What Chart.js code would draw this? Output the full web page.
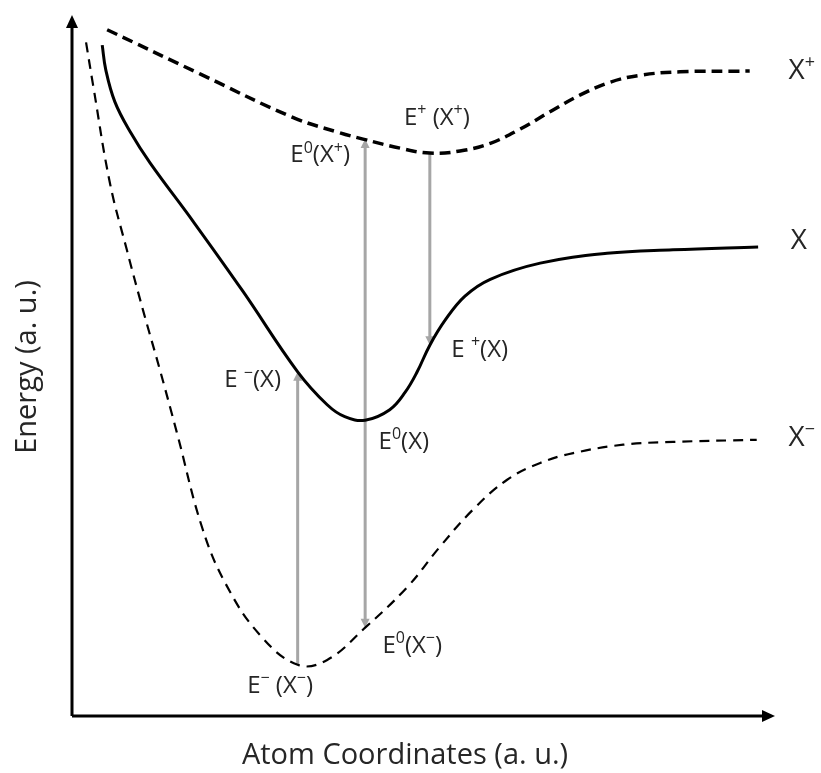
<!DOCTYPE html>
<html>
<head>
<meta charset="utf-8">
<script src="https://cdn.jsdelivr.net/npm/chart.js@4"></script>
<style>
  body { margin: 0; background: #fff; }
  #wrap { width: 821px; height: 773px; }
</style>
</head>
<body>
<div id="wrap"><canvas id="energyChart" width="821" height="773"></canvas></div>
<script>
// curve data (a.u.), x = atom coordinate, y = energy
var cationX = [5.0, 18.2, 31.4, 38.1, 41.4, 46.7, 50.9, 55.2, 59.5, 63.7, 68.0, 72.3, 76.5, 80.8, 86.5, 96.4];
var cationY = [97.9, 91.6, 85.4, 83.2, 82.3, 81.0, 80.3, 80.6, 81.7, 83.7, 86.2, 88.6, 90.4, 91.4, 91.9, 92.0];

var neutralX = [4.3, 4.8, 6.1, 8.3, 11.1, 17.2, 24.3, 32.1, 36.3, 38.8, 41.7, 45.2, 47.4, 49.1, 50.9, 53.1, 55.9, 59.5, 66.6, 76.1, 85.5, 97.6];
var neutralY = [95.7, 92.2, 87.6, 83.3, 78.9, 70.6, 60.6, 49.1, 44.4, 42.7, 42.2, 43.7, 46.2, 49.1, 52.9, 56.5, 59.9, 62.3, 64.6, 66.0, 66.5, 66.9];

var anionX = [2.0, 3.0, 5.4, 7.8, 10.1, 12.5, 14.9, 18.6, 22.0, 26.7, 32.1, 36.3, 41.7, 47.7, 52.3, 57.0, 61.9, 66.6, 71.3, 78.4, 85.5, 97.4];
var anionY = [96.1, 90.0, 76.0, 66.5, 57.9, 49.4, 40.5, 26.6, 18.6, 11.6, 7.3, 8.0, 12.6, 18.4, 24.1, 29.4, 33.7, 36.1, 37.5, 38.7, 39.1, 39.4];

// transitions: [x, yFrom, yTo]
var transitions = [
    [32.1, 7.3, 49.1],   // E-(X-) -> E-(X)
    [41.7, 42.2, 82.3],  // E0(X) -> E0(X+)
    [41.7, 42.2, 12.6],  // E0(X) -> E0(X-)
    [50.9, 80.3, 52.9]   // E+(X+) -> E+(X)
];

// text labels, parts: [text, isSuperscript]
var annotations = [
    { x: 35.3, y: 80.0, big: 0, parts: [['E', 0], ['0', 1], ['(X', 0], ['+', 1], [')', 0]] },
    { x: 51.9, y: 85.3, big: 0, parts: [['E', 0], ['+', 1], [' (X', 0], ['+', 1], [')', 0]] },
    { x: 58.0, y: 52.2, big: 0, parts: [['E ', 0], ['+', 1], ['(X)', 0]] },
    { x: 25.7, y: 47.9, big: 0, parts: [['E ', 0], ['\u2212', 1], ['(X)', 0]] },
    { x: 47.2, y: 39.1, big: 0, parts: [['E', 0], ['0', 1], ['(X)', 0]] },
    { x: 48.4, y: 10.0, big: 0, parts: [['E', 0], ['0', 1], ['(X', 0], ['\u2212', 1], [')', 0]] },
    { x: 29.6, y: 4.3, big: 0, parts: [['E', 0], ['\u2212', 1], [' (X', 0], ['\u2212', 1], [')', 0]] },
    { x: 103.8, y: 92.0, big: 1, parts: [['X', 0], ['+', 1]] },
    { x: 103.4, y: 67.7, big: 1, parts: [['X', 0]] },
    { x: 103.8, y: 39.6, big: 1, parts: [['X', 0], ['\u2212', 1]] }
];

function toPoints(xs, ys) {
    return xs.map(function (x, i) { return { x: x, y: ys[i] }; });
}

var fontFamily = '"Open Sans", "Noto Sans", sans-serif';

function drawRich(ctx, parts, cx, cy, size) {
    var supSize = Math.round(size * 0.66);
    var total = 0;
    parts.forEach(function (p) {
        ctx.font = (p[1] ? supSize : size) + 'px ' + fontFamily;
        total += ctx.measureText(p[0]).width;
    });
    var x = cx - total / 2;
    ctx.textBaseline = 'middle';
    ctx.textAlign = 'left';
    parts.forEach(function (p) {
        ctx.font = (p[1] ? supSize : size) + 'px ' + fontFamily;
        ctx.fillText(p[0], x, p[1] ? cy - size * 0.3 : cy);
        x += ctx.measureText(p[0]).width;
    });
}

function arrowHead(ctx, x, y, dir, len, half) {
    ctx.beginPath();
    if (dir === 'up') {
        ctx.moveTo(x, y); ctx.lineTo(x - half, y + len); ctx.lineTo(x + half, y + len);
    } else if (dir === 'down') {
        ctx.moveTo(x, y); ctx.lineTo(x - half, y - len); ctx.lineTo(x + half, y - len);
    } else {
        ctx.moveTo(x, y); ctx.lineTo(x - len, y - half); ctx.lineTo(x - len, y + half);
    }
    ctx.closePath();
    ctx.fill();
}

var decorPlugin = {
    id: 'decor',
    beforeDatasetsDraw: function (chart) {
        var ctx = chart.ctx, xs = chart.scales.x, ys = chart.scales.y;
        ctx.save();
        // gray transition arrows
        ctx.strokeStyle = '#a6a6a6';
        ctx.fillStyle = '#a6a6a6';
        ctx.lineWidth = 3;
        transitions.forEach(function (t) {
            var px = xs.getPixelForValue(t[0]);
            var y0 = ys.getPixelForValue(t[1]);
            var y1 = ys.getPixelForValue(t[2]);
            var up = y1 < y0;
            ctx.beginPath();
            ctx.moveTo(px, y0);
            ctx.lineTo(px, up ? y1 + 7 : y1 - 7);
            ctx.stroke();
            arrowHead(ctx, px, y1, up ? 'up' : 'down', 9, 4.5);
        });
        ctx.restore();
    },
    afterDraw: function (chart) {
        var ctx = chart.ctx, a = chart.chartArea;
        var xs = chart.scales.x, ys = chart.scales.y;
        ctx.save();
        // axes with arrows
        ctx.strokeStyle = '#000';
        ctx.fillStyle = '#000';
        ctx.lineWidth = 3;
        ctx.beginPath();
        ctx.moveTo(a.left, a.bottom);
        ctx.lineTo(a.left, a.top + 10);
        ctx.moveTo(a.left, a.bottom);
        ctx.lineTo(a.right - 10, a.bottom);
        ctx.stroke();
        arrowHead(ctx, a.left, a.top, 'up', 13, 6);
        arrowHead(ctx, a.right, a.bottom, 'right', 13, 6);

        // axis titles
        ctx.fillStyle = '#262626';
        ctx.font = '29px ' + fontFamily;
        ctx.textAlign = 'center';
        ctx.textBaseline = 'alphabetic';
        ctx.fillText('Atom Coordinates (a. u.)', 405, 764);
        ctx.save();
        ctx.translate(36, 367);
        ctx.rotate(-Math.PI / 2);
        ctx.fillText('Energy (a. u.)', 0, 0);
        ctx.restore();

        // annotations
        annotations.forEach(function (n) {
            drawRich(ctx, n.parts, xs.getPixelForValue(n.x), ys.getPixelForValue(n.y), n.big ? 28 : 24);
        });
        ctx.restore();
    }
};

var ctx = document.getElementById('energyChart').getContext('2d');
var energyChart = new Chart(ctx, {
    type: 'line',
    data: {
        datasets: [{
            label: 'X+',
            data: toPoints(cationX, cationY),
            borderColor: '#000',
            borderWidth: 3.5,
            borderDash: [11, 6],
            pointRadius: 0,
            tension: 0.4,
            fill: false
        }, {
            label: 'X',
            data: toPoints(neutralX, neutralY),
            borderColor: '#000',
            borderWidth: 3,
            pointRadius: 0,
            tension: 0.4,
            fill: false
        }, {
            label: 'X-',
            data: toPoints(anionX, anionY),
            borderColor: '#000',
            borderWidth: 2.2,
            borderDash: [10, 7],
            pointRadius: 0,
            tension: 0.4,
            fill: false
        }]
    },
    options: {
        responsive: false,
        animation: false,
        layout: { padding: { left: 72, right: 46, top: 15, bottom: 57 } },
        plugins: {
            legend: { display: false },
            tooltip: { enabled: false }
        },
        scales: {
            x: { type: 'linear', min: 0, max: 100, display: false },
            y: { type: 'linear', min: 0, max: 100, display: false }
        },
        clip: false
    },
    plugins: [decorPlugin]
});
</script>
</body>
</html>
